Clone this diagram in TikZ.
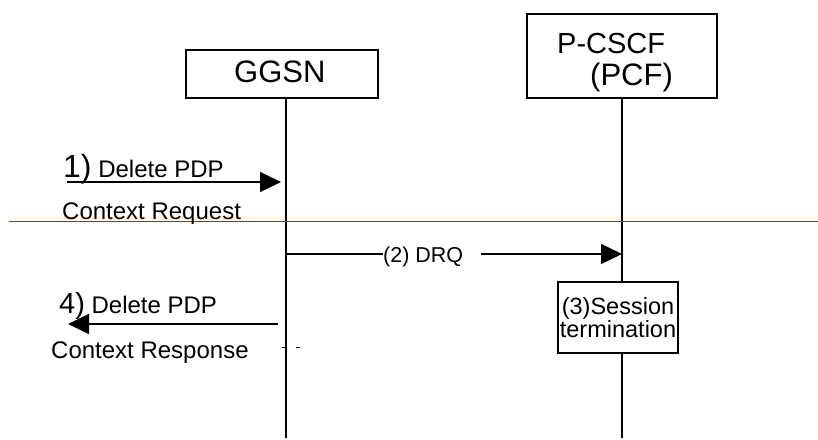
\documentclass[tikz,border=0pt]{standalone}
\usepackage{fontspec}
\setmainfont{Liberation Sans}
\usetikzlibrary{arrows.meta}
\begin{document}
\begin{tikzpicture}[x=1pt,y=-1pt,
  box/.style={draw, line width=1.4pt, inner sep=0pt},
  lbl/.style={inner sep=0pt, anchor=base west},
  big/.style={font=\fontsize{29}{29}\selectfont},
  bigger/.style={font=\fontsize{31}{31}\selectfont},
  small/.style={font=\fontsize{24}{24}\selectfont},
  life/.style={line width=1.4pt},
  msg/.style={line width=1.4pt, -{Triangle[length=21pt,width=20pt]}}]
\useasboundingbox (0,0) rectangle (818,439);
% entities
\node[box, minimum width=192pt, minimum height=48pt] (ggsn) at (282,74) {};
\node[lbl, bigger] (ggsnt) at (234,82) {GGSN};
\node[box, minimum width=190pt, minimum height=84pt] (pcf) at (622,56) {};
\node[lbl, big] (pcft1) at (557,53) {P-CSCF};
\node[lbl, bigger] (pcft2) at (590,85) {(PCF)};
\node[box, minimum width=120pt, minimum height=71pt, align=center,
      font=\fontsize{23.5}{23}\selectfont] (sess) at (618,317.5) {(3)Session\\termination};
% lifelines
\coordinate (gtop) at (286,98);
\coordinate (gbot) at (286,438);
\coordinate (pbot) at (622,438);
\draw[life] (gtop) -- (gbot);
\draw[life] (pcf.south) -- (pcf.south |- sess.north);
\draw[life] (pcf.south |- sess.south) -- (pbot);
% separator
\coordinate (rl) at (9,221);
\coordinate (rr) at (818,221);
\draw[red, line width=0.8pt] (rl) -- (rr);
% message 1
\coordinate (m1s) at (67,182);
\coordinate (m1e) at (281,182);
\draw[msg] (m1s) -- (m1e);
\node[lbl, small] (m1a) at (63,177) {{\fontsize{32}{32}\selectfont 1)} Delete PDP};
\node[lbl, small] (m1b) at (62,219) {Context Request};
% message 2
\coordinate (m2s) at (286,254);
\coordinate (m2m) at (481,254);
\coordinate (m2e) at (622,254);
\node[lbl, font=\fontsize{21.5}{21.5}\selectfont] (drq) at (383,262) {(2) DRQ};
\draw[line width=1.4pt] (m2s) -- (m2s -| drq.west);
\draw[msg] (m2m) -- (m2e);
% message 4
\coordinate (m4s) at (278,324);
\coordinate (m4e) at (68,324);
\draw[msg] (m4s) -- (m4e);
\node[lbl, small] (m4a) at (59,313) {{\fontsize{29}{29}\selectfont 4)} Delete PDP};
\node[lbl, small] (m4b) at (51,358) {Context Response};
% small tick marks
\coordinate (t1) at (282,347);
\coordinate (t2) at (300,347);
\draw[line width=0.6pt, dash pattern=on 4pt off 10pt] (t1) -- (t2);
\end{tikzpicture}
\end{document}
